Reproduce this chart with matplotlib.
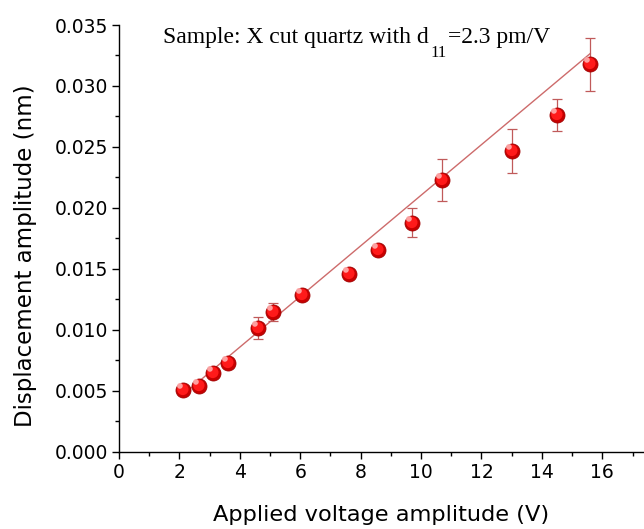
import numpy as np
import matplotlib
matplotlib.use('Agg')
from matplotlib import pyplot as plt
from matplotlib.path import Path
from matplotlib.ticker import MultipleLocator, FormatStrFormatter

# data
voltage = [2.11, 2.66, 3.10, 3.60, 4.59, 5.11, 6.05, 7.62, 8.58, 9.71, 10.70, 13.00, 14.50, 15.60]
displacement = [0.00506, 0.00538, 0.00643, 0.00730, 0.01012, 0.01148, 0.01285, 0.01455,
                0.01653, 0.01879, 0.02227, 0.02465, 0.02760, 0.03177]
error = [0.0, 0.0, 0.0, 0.0, 0.0009, 0.00075, 0.0, 0.0,
         0.0, 0.0012, 0.0017, 0.0018, 0.0013, 0.0022]
fit_slope = 0.002076      # nm/V
fit_intercept = 0.000277  # nm

plt.rcParams['font.family'] = ['DejaVu Sans']

fig = plt.figure(figsize=(6.44, 5.29), dpi=100)
ax = fig.add_axes([0.1848, 0.1461, 0.8152, 0.8066])

# fit line
xfit = np.array([2.24, voltage[-1]])
ax.plot(xfit, fit_slope * xfit + fit_intercept, color='#cd6b6b', lw=1.0, zorder=2)

# error bars
v = np.array(voltage)
d = np.array(displacement)
e = np.array(error)
m = e > 0
ax.errorbar(v[m], d[m], yerr=e[m], fmt='none', ecolor='#c05a5a', elinewidth=0.9,
            capsize=3.5, capthick=0.9, zorder=3)

# shiny red balls
ax.plot(v, d, 'o', ms=10.8, mfc='#c80000', mec='#a00000', mew=0.6, zorder=4)
inner = Path.circle((-0.05, 0.08), 0.42)
ax.plot(v, d, ls='none', marker=inner, ms=9.8, mfc='#ff1a1a', mec='none', zorder=5)
hl = Path.circle((-0.35, 0.45), 0.28)
ax.plot(v, d, ls='none', marker=hl, ms=10.8, mfc='#ffb0b0', mec='none', zorder=6, alpha=0.9)

ax.set_xlim(0, 17.38)
ax.set_ylim(0, 0.035)
ax.xaxis.set_major_locator(MultipleLocator(2))
ax.xaxis.set_minor_locator(MultipleLocator(1))
ax.yaxis.set_major_locator(MultipleLocator(0.005))
ax.yaxis.set_minor_locator(MultipleLocator(0.0025))
ax.yaxis.set_major_formatter(FormatStrFormatter('%.3f'))

for s in ['top', 'right']:
    ax.spines[s].set_visible(False)
for s in ['left', 'bottom']:
    ax.spines[s].set_linewidth(1.0)
ax.tick_params(which='major', direction='out', length=5, width=1.0, labelsize=13.5, pad=3)
ax.tick_params(which='minor', direction='out', length=3, width=1.0)

ax.set_xlabel('Applied voltage amplitude (V)', fontsize=16.2, labelpad=17)
ax.set_ylabel('Displacement amplitude (nm)', fontsize=16.5)
ax.yaxis.set_label_coords(-0.156, 0.46)

serif = ['Liberation Serif', 'DejaVu Serif']
t1 = ax.text(0.0838, 0.957, 'Sample: X cut quartz with d', transform=ax.transAxes,
             fontsize=17, family=serif, va='baseline', ha='left')
t2 = ax.annotate('11', xy=(1, 0), xycoords=t1, xytext=(1.5, -6.5),
                 textcoords='offset points', fontsize=12, family=serif, va='baseline')
ax.annotate('=2.3 pm/V', xy=(1, 0), xycoords=(t2, t1), xytext=(0.5, 0),
            textcoords='offset points', fontsize=17, family=serif, va='bottom')

fig.savefig('out.png', dpi=100)
